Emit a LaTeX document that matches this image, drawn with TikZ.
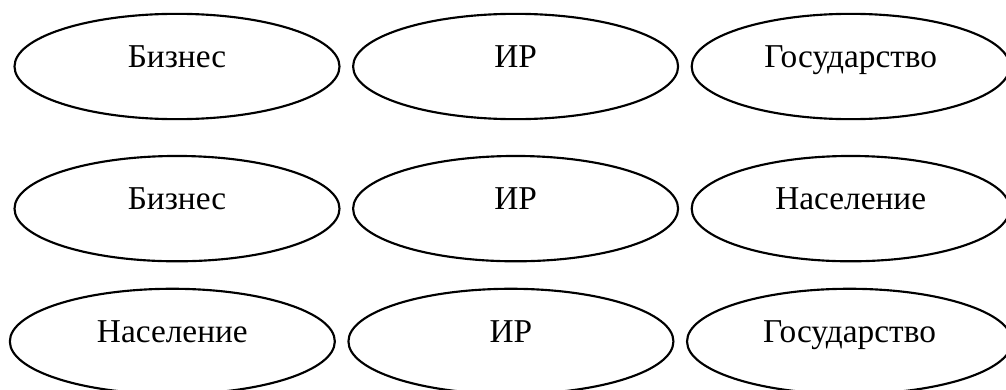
\documentclass[tikz,border=0pt]{standalone}
\usepackage{fontspec}
\setmainfont{Liberation Serif}
\usetikzlibrary{shapes.geometric,positioning}
\begin{document}
\begin{tikzpicture}[%
    x=0.75pt, y=-0.75pt,         % one unit is one pixel of the image
    node distance=26pt and 8.6pt, % gaps between the ovals
    ]
\tikzset{
  oval/.style={draw, ellipse, line width=1.6pt, inner sep=0pt,
    minimum width=243.75pt, minimum height=79pt,
    font=\fontsize{25}{30}\selectfont, text height=17pt, text depth=15pt},
}
\useasboundingbox (0,0) rectangle (1006,389);
    % first row
    \node [oval] (biz1) at (177,66.5) {Бизнес};
    \node [oval, right=of biz1] (ir1) {ИР};
    \node [oval, right=of ir1, minimum width=238.5pt] (gos1) {Государство};
    % second row
    \node [oval, below=of biz1] (biz2) {Бизнес};
    \node [oval, right=of biz2] (ir2) {ИР};
    \node [oval, right=of ir2, minimum width=238.5pt] (nas2) {Население};
    % third row
    \node [oval, below=19pt of biz2, xshift=-3.5pt] (nas3) {Население};
    \node [oval, right=of nas3] (ir3) {ИР};
    \node [oval, right=of ir3] (gos3) {Государство};
\end{tikzpicture}
\end{document}
